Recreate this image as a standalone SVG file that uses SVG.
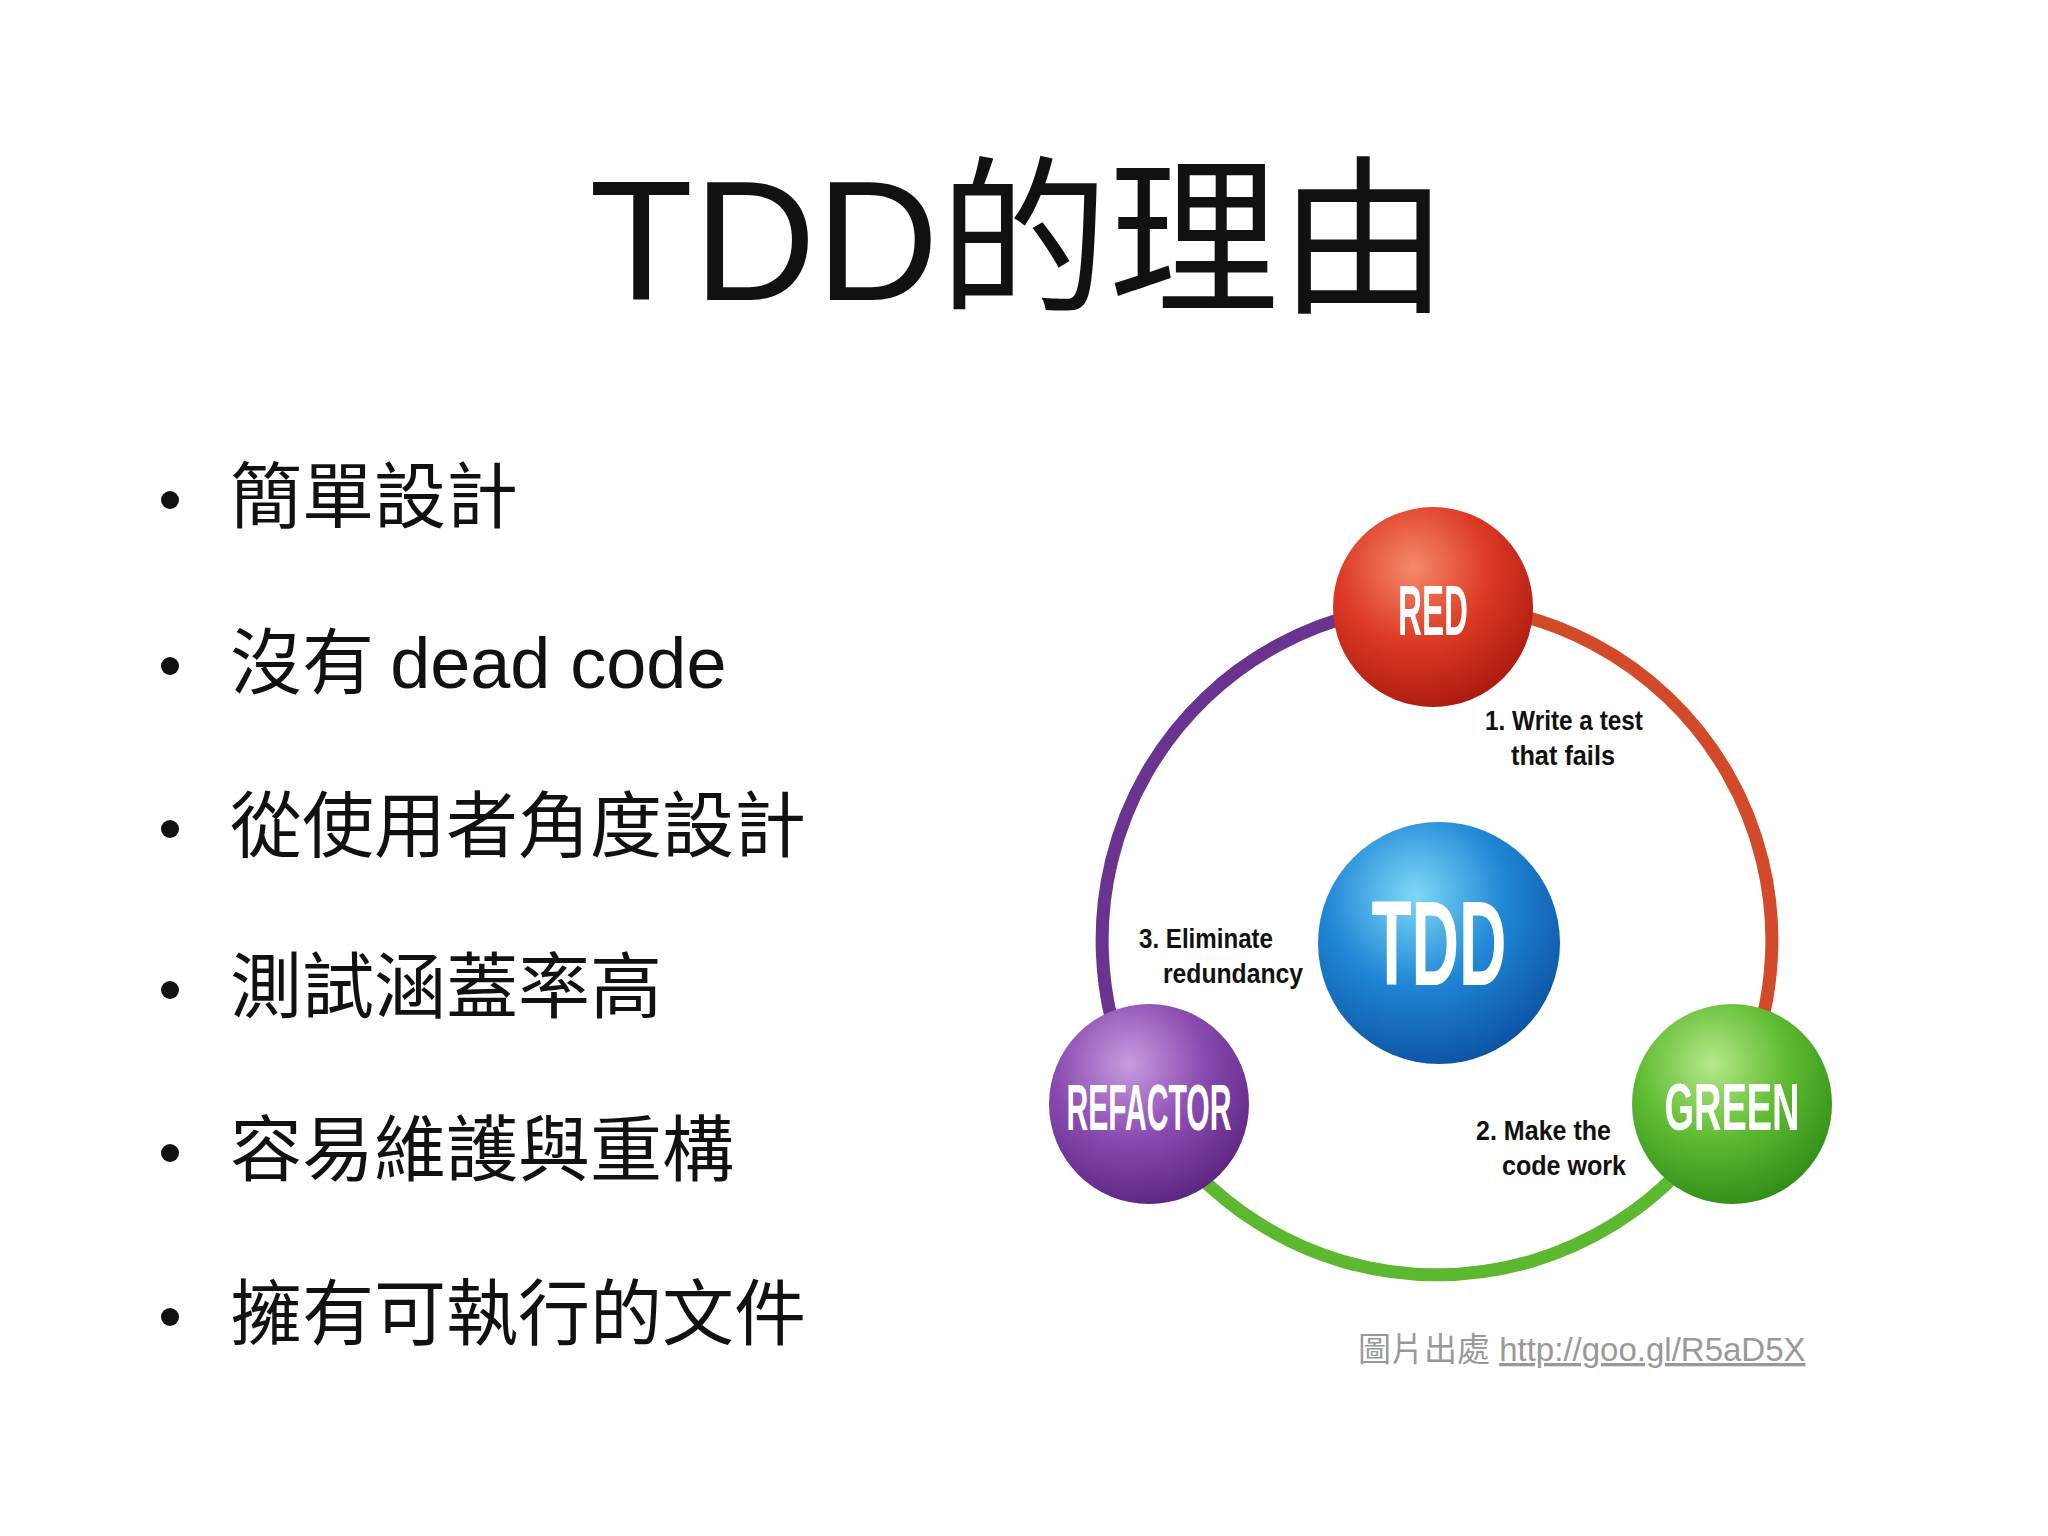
<svg xmlns="http://www.w3.org/2000/svg" width="2048" height="1536" viewBox="0 0 2048 1536">
<defs>
<radialGradient id="gr" cx="0.4" cy="0.3" r="0.75"><stop offset="0" stop-color="#f58a6a"/><stop offset="0.5" stop-color="#dd3a25"/><stop offset="1" stop-color="#a8180e"/></radialGradient>
<radialGradient id="gg" cx="0.4" cy="0.3" r="0.75"><stop offset="0" stop-color="#b6e88a"/><stop offset="0.5" stop-color="#5fbb32"/><stop offset="1" stop-color="#2e8a16"/></radialGradient>
<radialGradient id="gp" cx="0.4" cy="0.3" r="0.75"><stop offset="0" stop-color="#c99be0"/><stop offset="0.5" stop-color="#8a4bb0"/><stop offset="1" stop-color="#5a2380"/></radialGradient>
<radialGradient id="gb" cx="0.4" cy="0.3" r="0.75"><stop offset="0" stop-color="#7fd8f7"/><stop offset="0.5" stop-color="#1f86d6"/><stop offset="1" stop-color="#0c4fa0"/></radialGradient>
<style>
.b{font-family:"Noto Sans CJK TC","Noto Sans CJK SC",sans-serif;font-size:72px;fill:#111}
.lbl{font-family:"Liberation Sans",sans-serif;font-weight:bold;font-size:28px;fill:#111}
.nd{font-family:"Liberation Sans",sans-serif;font-weight:bold;fill:#fff;text-anchor:middle}
.ring{fill:none;stroke-width:13}
</style>
</defs>
<rect width="2048" height="1536" fill="#fff"/>
<text x="1019" y="300" text-anchor="middle" font-family="Liberation Sans,'Noto Sans CJK TC',sans-serif" font-size="170" fill="#111">TDD<tspan font-family="Noto Sans CJK TC,sans-serif">的理由</tspan></text>
<g id="bullets">
<g fill="#111"><circle cx="170" cy="500" r="9"/><circle cx="170" cy="666" r="9"/><circle cx="170" cy="829" r="9"/><circle cx="170" cy="990" r="9"/><circle cx="170" cy="1153" r="9"/><circle cx="170" cy="1317" r="9"/></g>
<text class="b" x="230" y="522">簡單設計</text>
<text class="b" x="230" y="688">沒有 <tspan font-family="Liberation Sans,sans-serif">dead code</tspan></text>
<text class="b" x="230" y="851">從使用者角度設計</text>
<text class="b" x="230" y="1012">測試涵蓋率高</text>
<text class="b" x="230" y="1175">容易維護與重構</text>
<text class="b" x="230" y="1339">擁有可執行的文件</text>
</g>
<g id="connectors">
<path class="ring" stroke="#d24a2a" d="M1437 605 A335 335 0 0 1 1727 1107.5"/>
<path class="ring" stroke="#5cb82e" d="M1727 1107.5 A335 335 0 0 1 1147 1107.5"/>
<path class="ring" stroke="#6a3390" d="M1147 1107.5 A335 335 0 0 1 1437 605"/>
</g>
<g id="red"><circle cx="1433" cy="607" r="100" fill="url(#gr)"/><text class="nd" x="1433" y="635" font-size="70" textLength="70" lengthAdjust="spacingAndGlyphs">RED</text></g>
<g id="green"><circle cx="1732" cy="1104" r="100" fill="url(#gg)"/><text class="nd" x="1732" y="1130" font-size="66" textLength="135" lengthAdjust="spacingAndGlyphs">GREEN</text></g>
<g id="refactor"><circle cx="1149" cy="1104" r="100" fill="url(#gp)"/><text class="nd" x="1149" y="1130" font-size="64" textLength="165" lengthAdjust="spacingAndGlyphs">REFACTOR</text></g>
<g id="tdd"><circle cx="1439" cy="943" r="121" fill="url(#gb)"/><text class="nd" x="1439" y="985" font-size="120" textLength="135" lengthAdjust="spacingAndGlyphs">TDD</text></g>
<g id="labels">
<text class="lbl" x="1485" y="730" textLength="158" lengthAdjust="spacingAndGlyphs">1. Write a test</text>
<text class="lbl" x="1511" y="765" textLength="104" lengthAdjust="spacingAndGlyphs">that fails</text>
<text class="lbl" x="1476" y="1140" textLength="135" lengthAdjust="spacingAndGlyphs">2. Make the</text>
<text class="lbl" x="1502" y="1175" textLength="124" lengthAdjust="spacingAndGlyphs">code work</text>
<text class="lbl" x="1139" y="948" textLength="134" lengthAdjust="spacingAndGlyphs">3. Eliminate</text>
<text class="lbl" x="1163" y="983" textLength="140" lengthAdjust="spacingAndGlyphs">redundancy</text>
</g>
<text x="1358" y="1361" font-family="Liberation Sans,'Noto Sans CJK TC',sans-serif" font-size="33" fill="#999"><tspan font-family="Noto Sans CJK TC,sans-serif">圖片出處</tspan> <tspan text-decoration="underline">http://goo.gl/R5aD5X</tspan></text>
</svg>
